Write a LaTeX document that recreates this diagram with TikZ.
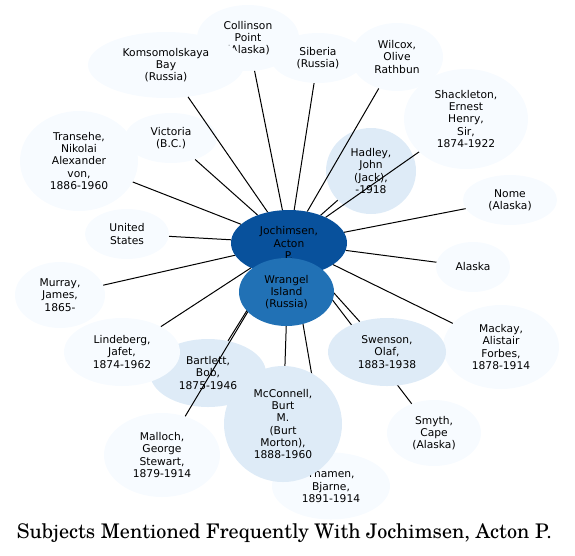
\documentclass[tikz,border=0pt]{standalone}
\usepackage{fontspec}
\usepackage{graphicx}
\setmainfont{DejaVu Sans}
\newfontfamily\titlefont{texgyreschola-regular.otf}
\usetikzlibrary{shapes.geometric}
\definecolor{nlight}{HTML}{F7FBFF}
\definecolor{nmid}{HTML}{DEEBF7}
\definecolor{ndark}{HTML}{08519C}
\definecolor{nwrang}{HTML}{2171B5}
\pgfdeclarelayer{edges}
\pgfdeclarelayer{top}
\pgfsetlayers{main,edges,top}
\begin{document}
\begin{tikzpicture}[x=1pt,y=-1pt,
  bub/.style={ellipse, inner sep=0pt, align=center, draw=none,
    font=\fontsize{10.7}{12.2}\selectfont, fill=nlight},
  mid/.style={bub, fill=nmid},
  sz/.style 2 args={minimum width=#1pt, minimum height=#2pt},
  link/.style={draw=black, line width=1pt}]
\useasboundingbox (0,0) rectangle (575,555);
\node[bub, sz={102}{66}] (coll) at (248,38) {Collinson\\Point\\(Alaska)};
\node[bub, sz={156}{66}] (koms) at (166,65) {Komsomolskaya\\Bay\\(Russia)};
\node[bub, sz={94}{50}] (sib) at (318,58) {Siberia\\(Russia)};
\node[bub, sz={92}{68}] (wil) at (397,57) {Wilcox,\\Olive\\Rathbun};
\node[bub, sz={92}{50}] (vic) at (171,138) {Victoria\\(B.C.)};
\node[bub, sz={118}{100}] (tra) at (79,161) {Transehe,\\Nikolai\\Alexander\\von,\\1886-1960};
\node[bub, sz={84}{50}] (us) at (127,234) {United\\States};
\node[bub, sz={90}{66}] (mur) at (60,295) {Murray,\\James,\\1865-};
\node[mid, sz={116}{68}] (bar) at (208,373) {Bartlett,\\Bob,\\1875-1946};
\node[bub, sz={116}{68}] (lin) at (122,352) {Lindeberg,\\Jafet,\\1874-1962};
\node[bub, sz={116}{84}] (mal) at (162,455) {Malloch,\\George\\Stewart,\\1879-1914};
\node[bub, sz={118}{67}] (tha) at (331,486) {Thamen,\\Bjarne,\\1891-1914};
\node[bub, sz={94}{66}] (smy) at (434,433) {Smyth,\\Cape\\(Alaska)};
\node[bub, sz={116}{84}] (mac) at (501,347) {Mackay,\\Alistair\\Forbes,\\1878-1914};
\node[bub, sz={74}{50}] (ala) at (473,267) {Alaska};
\node[bub, sz={94}{50}] (nom) at (510,200) {Nome\\(Alaska)};
\node[bub, sz={124}{100}] (sha) at (466,119) {Shackleton,\\Ernest\\Henry,\\Sir,\\1874-1922};
\node[mid, sz={90}{86}] (had) at (371,171) {Hadley,\\John\\(Jack),\\-1918};
\node[bub, fill=ndark, sz={116}{66}] (joc) at (289,243) {Jochimsen,\\Acton\\P.};
\begin{pgfonlayer}{top}
\node[mid, sz={118}{68}] (swe) at (387,352) {Swenson,\\Olaf,\\1883-1938};
\node[mid, sz={118}{116}] (mcc) at (283,424) {McConnell,\\Burt\\M.\\(Burt\\Morton),\\1888-1960};
\node[bub, fill=nwrang, sz={95}{68}] (wra) at (286.5,292) {Wrangel\\Island\\(Russia)};
\end{pgfonlayer}
\begin{pgfonlayer}{edges}
\foreach \t in {koms,coll,sib,wil,vic,tra,us,mur,lin,bar,mal,mcc,tha,smy,swe,mac,ala,nom,sha,had}
  \draw[link] (joc) -- (\t);
\end{pgfonlayer}
\node[anchor=base] (title) at (284.5,538) {\resizebox{535pt}{!}{\titlefont Subjects Mentioned Frequently With Jochimsen, Acton P.}};
\end{tikzpicture}
\end{document}
